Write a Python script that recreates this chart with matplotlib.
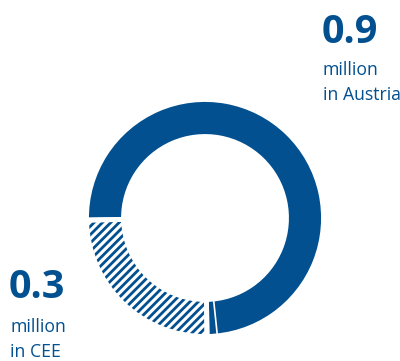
import numpy as np
import matplotlib.pyplot as plt

plt.rcParams['font.family'] = ['Open Sans', 'DejaVu Sans']
plt.rcParams['hatch.linewidth'] = 2.0

# customers in millions
regions = ['Austria', 'CEE']
customers = [0.9, 0.3]
labels = ['0.9', '0.3']
blue = '#02508f'

fig = plt.figure(figsize=(4.0, 3.61), dpi=100)
ax = fig.add_axes([0, 0, 1, 1])
ax.set_aspect('equal')
ax.axis('off')

cx, cy = 205, 143
r_out, ring = 118.5, 37

# CEE first so it sits in the lower-left quarter
vals = [customers[1], customers[0]]
wedges, _ = ax.pie(vals, center=(cx, cy), radius=r_out, startangle=181,
                   counterclock=True, frame=True,
                   wedgeprops=dict(width=ring, linewidth=0))
wedges[0].set_facecolor('white')
wedges[0].set_edgecolor(blue)
wedges[0].set_hatch('////')
wedges[1].set_facecolor(blue)
wedges[1].set_edgecolor(blue)

# white separators between the segments
ax.pie(vals, center=(cx, cy), radius=r_out, startangle=181, counterclock=True,
       frame=True, wedgeprops=dict(width=ring, facecolor='none',
                                   edgecolor='white', linewidth=3.5))
# thin cut near the bottom of the Austria ring
a = np.deg2rad(276)
rr = np.array([r_out - ring - 2, r_out + 2])
ax.plot(cx + rr * np.cos(a), cy + rr * np.sin(a), color='white', lw=1.2)

ax.set_xlim(0, 400)
ax.set_ylim(0, 361)

fig.text(322 / 400, 1 - 43 / 361, labels[0], color=blue, fontsize=28.5,
         fontweight='bold', ha='left', va='baseline')
fig.text(323 / 400, 1 - 75 / 361, 'million', color=blue, fontsize=12.7,
         ha='left', va='baseline')
fig.text(323 / 400, 1 - 100 / 361, 'in ' + regions[0], color=blue,
         fontsize=12.7, ha='left', va='baseline')

fig.text(9 / 400, 1 - 298 / 361, labels[1], color=blue, fontsize=28.5,
         fontweight='bold', ha='left', va='baseline')
fig.text(10 / 400, 1 - 332 / 361, 'million', color=blue, fontsize=12.7,
         ha='left', va='baseline')
fig.text(10 / 400, 1 - 357 / 361, 'in ' + regions[1], color=blue,
         fontsize=12.7, ha='left', va='baseline')

fig.savefig('out.png', dpi=100)
